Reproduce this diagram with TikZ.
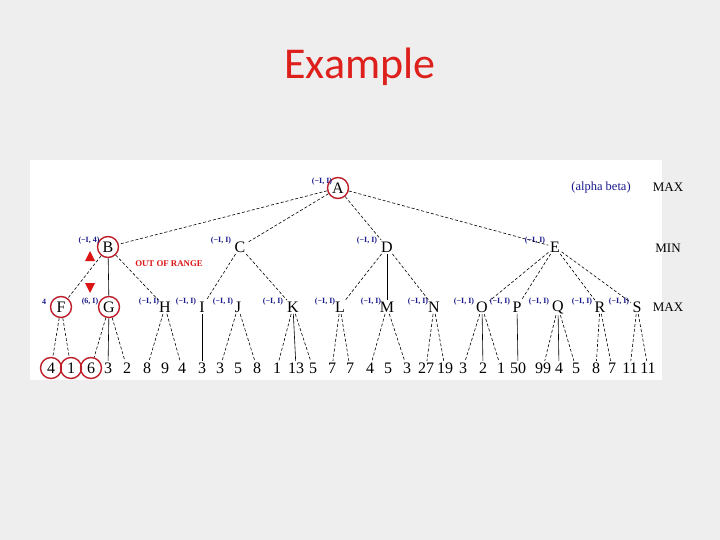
\documentclass[tikz,border=0pt]{standalone}
\usepackage{fontspec}
\setmainfont{Liberation Serif}
\newfontfamily\titlefont{Carlito}
\definecolor{slidebg}{RGB}{238,238,238}
\definecolor{titlered}{RGB}{222,32,28}
\definecolor{ringred}{RGB}{190,30,40}
\definecolor{abblue}{RGB}{25,25,140}
\definecolor{warnred}{RGB}{220,20,20}
\begin{document}
\begin{tikzpicture}[x=1pt,y=-1pt,
  lbl/.style={font=\fontsize{16}{16}\selectfont, inner sep=1.5pt},
  ring/.style={lbl, draw=ringred, circle, line width=1.4pt, minimum size=21pt, inner sep=0pt},
  ab/.style={font=\bfseries\fontsize{8}{8}\selectfont, text=abblue, inner sep=0pt},
  side/.style={font=\fontsize{13}{13}\selectfont, inner sep=0pt},
  dedge/.style={dashed, dash pattern=on 3pt off 2pt, line width=0.6pt},
  sedge/.style={line width=0.6pt}]
\useasboundingbox (0,0) rectangle (720,540);
\fill[slidebg] (0,0) rectangle (720,540);
\fill[white] (30,160) rectangle (662,380);
\node[font=\titlefont\fontsize{44}{44}\selectfont, text=titlered] (title) at (360,67) {Example};

% level 1
\node[ring] (A) at (338,188) {A};
% level 2
\node[ring] (B) at (108,247) {B};
\node[lbl] (C) at (240,247) {C};
\node[lbl] (D) at (387,247) {D};
\node[lbl] (E) at (555,247) {E};
% level 3
\node[ring] (F) at (61,307) {F};
\node[ring] (G) at (109,307) {G};
\node[lbl] (H) at (165,307) {H};
\node[lbl] (I) at (202,307) {I};
\node[lbl] (J) at (238,307) {J};
\node[lbl] (K) at (293,307) {K};
\node[lbl] (L) at (340,307) {L};
\node[lbl] (M) at (387,307) {M};
\node[lbl] (N) at (434,307) {N};
\node[lbl] (O) at (482,307) {O};
\node[lbl] (P) at (517,307) {P};
\node[lbl] (Q) at (558,307) {Q};
\node[lbl] (R) at (600,307) {R};
\node[lbl] (S) at (637,307) {S};
% leaves
\node[ring] (l1) at (51,368) {4};
\node[ring] (l2) at (71,368) {1};
\node[ring] (l3) at (91,368) {6};
\node[lbl] (l4) at (108,368) {3};
\node[lbl] (l5) at (127,368) {2};
\node[lbl] (l6) at (147,368) {8};
\node[lbl] (l7) at (165,368) {9};
\node[lbl] (l8) at (182,368) {4};
\node[lbl] (l9) at (202,368) {3};
\node[lbl] (l10) at (220,368) {3};
\node[lbl] (l11) at (238,368) {5};
\node[lbl] (l12) at (257,368) {8};
\node[lbl] (l13) at (277,368) {1};
\node[lbl] (l14) at (296,368) {13};
\node[lbl] (l15) at (313,368) {5};
\node[lbl] (l16) at (332,368) {7};
\node[lbl] (l17) at (350,368) {7};
\node[lbl] (l18) at (370,368) {4};
\node[lbl] (l19) at (388,368) {5};
\node[lbl] (l20) at (407,368) {3};
\node[lbl] (l21) at (426,368) {27};
\node[lbl] (l22) at (445,368) {19};
\node[lbl] (l23) at (463,368) {3};
\node[lbl] (l24) at (483,368) {2};
\node[lbl] (l25) at (501,368) {1};
\node[lbl] (l26) at (518,368) {50};
\node[lbl] (l27) at (543,368) {99};
\node[lbl] (l28) at (559,368) {4};
\node[lbl] (l29) at (576,368) {5};
\node[lbl] (l30) at (596,368) {8};
\node[lbl] (l31) at (612,368) {7};
\node[lbl] (l32) at (630,368) {11};
\node[lbl] (l33) at (648,368) {11};

% alpha-beta labels
\node[ab] (aA) at (322,182) {(−I, I)};
\node[ab] (aB) at (89,241) {(−I, 4)};
\node[ab] (aC) at (221,241) {(−I, I)};
\node[ab] (aD) at (367,241) {(−I, I)};
\node[ab] (aE) at (535,241) {(−I, I)};
\node[ab] (aF) at (44,302) {4};
\node[ab] (aG) at (90,302) {(6, I)};
\node[ab] (aH) at (149,302) {(−I, I)};
\node[ab] (aI) at (186,302) {(−I, I)};
\node[ab] (aJ) at (223,302) {(−I, I)};
\node[ab] (aK) at (273,302) {(−I, I)};
\node[ab] (aL) at (325,302) {(−I, I)};
\node[ab] (aM) at (371,302) {(−I, I)};
\node[ab] (aN) at (418,302) {(−I, I)};
\node[ab] (aO) at (464,302) {(−I, I)};
\node[ab] (aP) at (500,302) {(−I, I)};
\node[ab] (aQ) at (539,302) {(−I, I)};
\node[ab] (aR) at (582,302) {(−I, I)};
\node[ab] (aS) at (619,302) {(−I, I)};

\node[font=\fontsize{12.5}{12.5}\selectfont, text=abblue, inner sep=0pt] (legend) at (601,187) {(alpha beta)};
\node[side] (max1) at (668,187) {MAX};
\node[side] (min1) at (668,248) {MIN};
\node[side] (max2) at (668,307) {MAX};
\node[font=\bfseries\fontsize{8.8}{8.8}\selectfont, text=warnred, inner sep=0pt] (oor) at (169,264) {OUT OF RANGE};

% triangles
\fill[warnred] (85,261) -- (95,261) -- (90,251) -- cycle;
\fill[warnred] (85,283) -- (95,283) -- (90,293) -- cycle;

% edges
\draw[dedge] (A) -- (B);
\draw[dedge] (A) -- (C);
\draw[dedge] (A) -- (D);
\draw[dedge] (A) -- (E);
\draw[dedge] (B) -- (F);
\draw[sedge] (B) -- (G);
\draw[dedge] (B) -- (H);
\draw[dedge] (C) -- (I);
\draw[dedge] (C) -- (K);
\draw[dedge] (D) -- (L);
\draw[sedge] (D) -- (M);
\draw[dedge] (D) -- (N);
\draw[dedge] (E) -- (O);
\draw[dedge] (E) -- (P);
\draw[dedge] (E) -- (R);
\draw[dedge] (E) -- (S);

\draw[dedge] (F) -- (l1);
\draw[dedge] (F) -- (l2);
\draw[dedge] (G) -- (l3);
\draw[sedge] (G) -- (l4);
\draw[dedge] (G) -- (l5);
\draw[dedge] (H) -- (l6);
\draw[dedge] (H) -- (l8);
\draw[sedge] (I) -- (l9);
\draw[dedge] (J) -- (l10);
\draw[dedge] (J) -- (l12);
\draw[dedge] (K) -- (l13);
\draw[sedge] (K) -- (l14);
\draw[dedge] (K) -- (l15);
\draw[dedge] (L) -- (l16);
\draw[dedge] (L) -- (l17);
\draw[dedge] (M) -- (l18);
\draw[dedge] (M) -- (l20);
\draw[dedge] (N) -- (l21);
\draw[dedge] (N) -- (l22);
\draw[dedge] (O) -- (l23);
\draw[sedge] (O) -- (l24);
\draw[dedge] (O) -- (l25);
\draw[sedge] (P) -- (l26);
\draw[dedge] (Q) -- (l27);
\draw[sedge] (Q) -- (l28);
\draw[dedge] (Q) -- (l29);
\draw[dedge] (R) -- (l30);
\draw[dedge] (R) -- (l31);
\draw[dedge] (S) -- (l32);
\draw[dedge] (S) -- (l33);
\end{tikzpicture}
\end{document}
